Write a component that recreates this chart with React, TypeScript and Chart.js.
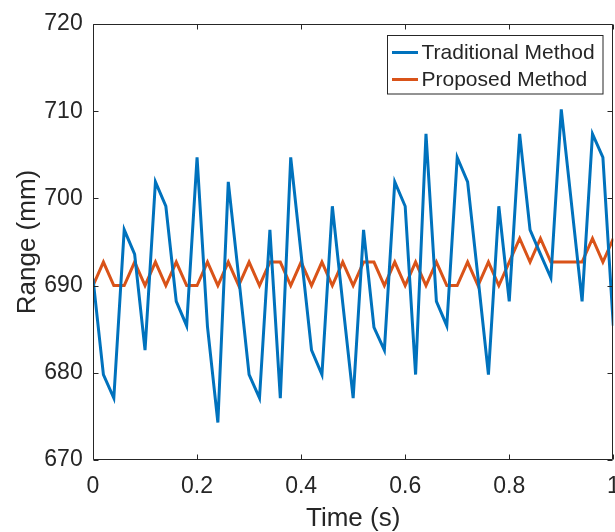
import React, { useEffect, useRef } from 'react';
import { Chart, registerables } from 'chart.js';

Chart.register(...registerables);

const timeS = [
  0, 0.02, 0.04, 0.06, 0.08, 0.1, 0.12, 0.14, 0.16, 0.18,
  0.2, 0.22, 0.24, 0.26, 0.28, 0.3, 0.32, 0.34, 0.36, 0.38,
  0.4, 0.42, 0.44, 0.46, 0.48, 0.5, 0.52, 0.54, 0.56, 0.58,
  0.6, 0.62, 0.64, 0.66, 0.68, 0.7, 0.72, 0.74, 0.76, 0.78,
  0.8, 0.82, 0.84, 0.86, 0.88, 0.9, 0.92, 0.94, 0.96, 0.98, 1,
];

const traditionalMethod = [
  690.8, 679.8, 677.1, 696.4, 693.6, 682.6, 701.9, 699.1, 688.2, 685.4,
  704.7, 685.3, 674.3, 701.9, 691.0, 679.8, 677.1, 696.4, 677.1, 704.7,
  693.6, 682.6, 679.8, 699.1, 688.0, 677.1, 696.4, 685.2, 682.6, 701.9,
  699.1, 679.8, 707.4, 688.2, 685.4, 704.7, 701.9, 690.9, 679.8, 699.1,
  688.2, 707.4, 696.4, 693.6, 690.9, 710.2, 699.2, 688.2, 707.4, 704.7, 685.4,
];

const proposedMethod = [
  690.0, 692.7, 690.0, 690.0, 692.7, 690.0, 692.7, 690.0, 692.7, 690.0,
  690.0, 692.7, 690.0, 692.7, 690.0, 692.7, 690.0, 692.7, 692.7, 690.0,
  692.7, 690.0, 692.7, 690.0, 692.7, 690.0, 692.7, 692.7, 690.0, 692.7,
  690.0, 692.7, 690.0, 692.7, 690.0, 690.0, 692.7, 690.0, 692.7, 690.0,
  692.7, 695.4, 692.7, 695.4, 692.7, 692.7, 692.7, 692.7, 695.4, 692.7, 695.4,
];

const seriesLabels = ['Traditional Method', 'Proposed Method'];
const seriesColors = ['#0072BD', '#D95319'];

const xMin = 0;
const xMax = 1;
const xStep = 0.2;
const yMin = 670;
const yMax = 720;
const yStep = 10;

const AXIS_COLOR = '#262626';
const FONT_FAMILY = '"Liberation Sans", Arial, Helvetica, sans-serif';

const matlabAxesPlugin = {
  id: 'matlabAxes',
  afterDraw(chart: any) {
    const { ctx, chartArea: a, scales } = chart;
    const xs = scales.x;
    const ys = scales.y;
    ctx.save();
    ctx.strokeStyle = AXIS_COLOR;
    ctx.lineWidth = 1;
    const L = Math.round(a.left) + 0.5;
    const R = Math.round(a.right) - 0.5;
    const T = Math.round(a.top) + 0.5;
    const B = Math.round(a.bottom) - 0.5;
    ctx.beginPath();
    ctx.rect(L, T, R - L, B - T);
    ctx.stroke();
    const tl = 5;
    ctx.beginPath();
    xs.ticks.forEach((t: any) => {
      const px = Math.round(xs.getPixelForValue(t.value)) + 0.5;
      ctx.moveTo(px, B);
      ctx.lineTo(px, B - tl);
      ctx.moveTo(px, T);
      ctx.lineTo(px, T + tl);
    });
    ys.ticks.forEach((t: any) => {
      const py = Math.round(ys.getPixelForValue(t.value)) + 0.5;
      ctx.moveTo(L, py);
      ctx.lineTo(L + tl, py);
      ctx.moveTo(R, py);
      ctx.lineTo(R - tl, py);
    });
    ctx.stroke();

    // legend (MATLAB style, inside top right)
    const bx = 387.5;
    const by = 35.5;
    const bw = 215.5;
    const bh = 58.5;
    ctx.fillStyle = '#ffffff';
    ctx.fillRect(bx, by, bw, bh);
    ctx.strokeStyle = AXIS_COLOR;
    ctx.lineWidth = 1;
    ctx.strokeRect(bx, by, bw, bh);
    ctx.font = `21px ${FONT_FAMILY}`;
    ctx.textBaseline = 'middle';
    ctx.textAlign = 'left';
    chart.data.datasets.forEach((ds: any, i: number) => {
      const cy = 52.5 + i * 27;
      ctx.strokeStyle = ds.borderColor;
      ctx.lineWidth = 3;
      ctx.beginPath();
      ctx.moveTo(392, cy);
      ctx.lineTo(418, cy);
      ctx.stroke();
      ctx.fillStyle = AXIS_COLOR;
      ctx.fillText(ds.label, 421.5, cy + 0.5);
    });
    ctx.restore();
  },
};

export default function App() {
  const canvasRef = useRef<HTMLCanvasElement | null>(null);

  useEffect(() => {
    const canvas = canvasRef.current;
    if (!canvas) return;
    const mkData = (vals: number[]) => timeS.map((t, i) => ({ x: t, y: vals[i] }));
    const chart = new Chart(canvas, {
      type: 'line',
      data: {
        datasets: [
          {
            label: seriesLabels[0],
            data: mkData(traditionalMethod),
            borderColor: seriesColors[0],
            backgroundColor: seriesColors[0],
            borderWidth: 3,
            pointRadius: 0,
            tension: 0,
            borderJoinStyle: 'miter',
          },
          {
            label: seriesLabels[1],
            data: mkData(proposedMethod),
            borderColor: seriesColors[1],
            backgroundColor: seriesColors[1],
            borderWidth: 3,
            pointRadius: 0,
            tension: 0,
            borderJoinStyle: 'miter',
          },
        ],
      },
      options: {
        responsive: false,
        animation: false,
        devicePixelRatio: 1,
        layout: { padding: { top: 24, left: 0, right: 1.7, bottom: 0 } },
        plugins: {
          legend: { display: false },
          tooltip: { enabled: false },
        },
        scales: {
          x: {
            type: 'linear',
            min: xMin,
            max: xMax,
            grid: { display: false, drawTicks: false },
            border: { display: false },
            ticks: {
              stepSize: xStep,
              padding: 13,
              color: AXIS_COLOR,
              maxRotation: 0,
              autoSkip: false,
              font: { family: FONT_FAMILY, size: 23 },
              callback: (v: any) => String(Math.round(Number(v) * 10) / 10),
            },
            title: {
              display: true,
              text: 'Time (s)',
              color: AXIS_COLOR,
              font: { family: FONT_FAMILY, size: 26, lineHeight: 1 },
              padding: { top: 0, bottom: 0 },
            },
            afterFit: (scale: any) => {
              scale.height = 72;
              scale.paddingLeft = 0;
              scale.paddingRight = 0;
            },
          },
          y: {
            type: 'linear',
            min: yMin,
            max: yMax,
            grid: { display: false, drawTicks: false },
            border: { display: false },
            ticks: {
              stepSize: yStep,
              padding: 10.3,
              color: AXIS_COLOR,
              font: { family: FONT_FAMILY, size: 23 },
            },
            title: {
              display: true,
              text: 'Range (mm)',
              color: AXIS_COLOR,
              font: { family: FONT_FAMILY, size: 26, lineHeight: 1 },
              padding: { top: 15, bottom: 0 },
            },
            afterFit: (scale: any) => {
              scale.width = 93;
              scale.paddingTop = 0;
              scale.paddingBottom = 0;
            },
          },
        },
      },
      plugins: [matlabAxesPlugin],
    } as any);
    return () => chart.destroy();
  }, []);

  return (
    <div style={{ position: 'absolute', left: 0, top: 0, width: 615, height: 532, background: '#ffffff' }}>
      <canvas ref={canvasRef} width={615} height={532} style={{ display: 'block', width: 615, height: 532 }} />
    </div>
  );
}
